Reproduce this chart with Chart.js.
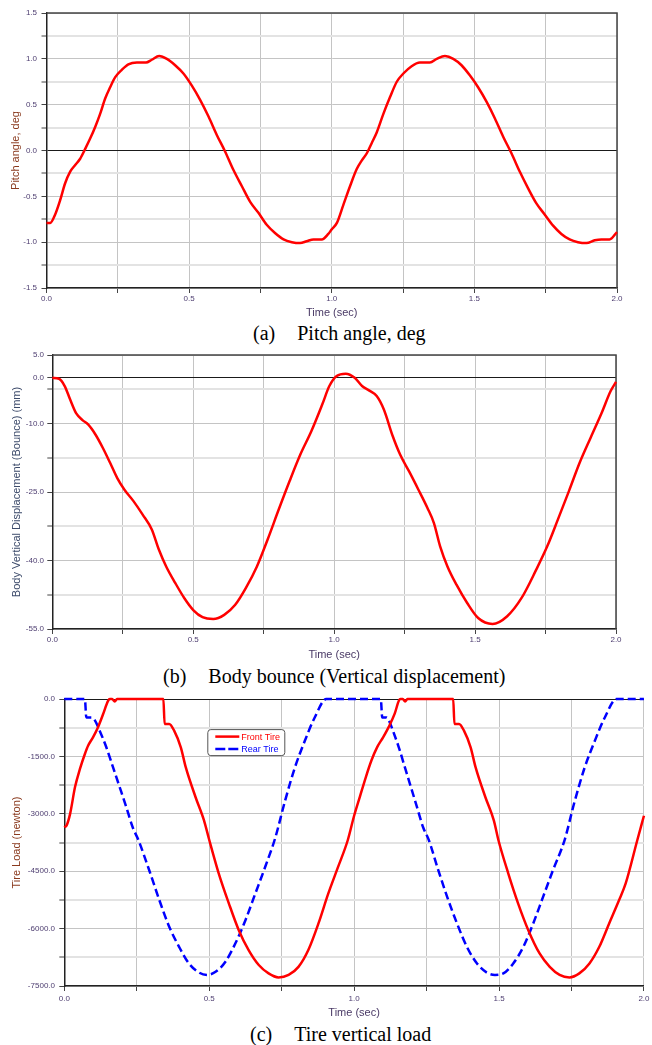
<!DOCTYPE html>
<html><head><meta charset="utf-8">
<script src="https://cdn.jsdelivr.net/npm/chart.js@4.4.0/dist/chart.umd.min.js"></script>
<style>
html,body{margin:0;padding:0;background:#fff;}
body{width:652px;height:1045px;overflow:hidden;position:relative}
.wrap{position:absolute;left:0;width:652px}
canvas{display:block}
.cap{position:absolute;font-family:"Liberation Serif","Times New Roman",serif;font-size:20px;line-height:24px;color:#000;white-space:nowrap}
.cap span+span{margin-left:22px}
</style></head><body>
<div class="wrap" style="top:0;height:320px"><canvas id="ca" width="652" height="320"></canvas></div>
<div class="cap" style="left:253px;top:321px"><span>(a)</span><span>Pitch angle, deg</span></div>
<div class="wrap" style="top:345px;height:317px"><canvas id="cb" width="652" height="317"></canvas></div>
<div class="cap" style="left:163px;top:664px"><span>(b)</span><span>Body bounce (Vertical displacement)</span></div>
<div class="wrap" style="top:690px;height:332px"><canvas id="cc" width="652" height="332"></canvas></div>
<div class="cap" style="left:250px;top:1022px"><span>(c)</span><span>Tire vertical load</span></div>
<script>
// ---------- data ----------
const timeTicks = [0, 0.25, 0.5, 0.75, 1.0, 1.25, 1.5, 1.75, 2.0];
const timeLabels = [0, 0.5, 1.0, 1.5, 2.0];

const pitchTime = [0, 0.013, 0.03, 0.048, 0.065, 0.083, 0.1, 0.118, 0.136, 0.153, 0.171, 0.188, 0.206, 0.223, 0.241, 0.264, 0.287, 0.317, 0.349, 0.369, 0.395, 0.422, 0.451, 0.48, 0.509, 0.539, 0.568, 0.597, 0.626, 0.655, 0.685, 0.714, 0.743, 0.772, 0.801, 0.831, 0.86, 0.889, 0.912, 0.936, 0.965, 0.988, 1.0, 1.018, 1.041, 1.064, 1.088, 1.105, 1.123, 1.14, 1.158, 1.181, 1.204, 1.228, 1.251, 1.28, 1.309, 1.344, 1.368, 1.397, 1.426, 1.455, 1.484, 1.513, 1.543, 1.572, 1.601, 1.63, 1.659, 1.688, 1.718, 1.747, 1.776, 1.805, 1.834, 1.863, 1.893, 1.922, 1.945, 1.974, 2.0];
const pitchDeg = [-0.79, -0.79, -0.70, -0.54, -0.36, -0.23, -0.16, -0.09, 0.02, 0.13, 0.26, 0.40, 0.57, 0.69, 0.80, 0.88, 0.94, 0.96, 0.96, 0.99, 1.03, 1.00, 0.93, 0.84, 0.71, 0.55, 0.37, 0.17, -0.01, -0.21, -0.39, -0.56, -0.68, -0.81, -0.90, -0.97, -1.00, -1.01, -0.99, -0.97, -0.97, -0.91, -0.86, -0.79, -0.59, -0.39, -0.20, -0.11, -0.03, 0.08, 0.20, 0.40, 0.58, 0.75, 0.84, 0.92, 0.96, 0.96, 1.00, 1.03, 1.00, 0.93, 0.82, 0.69, 0.53, 0.35, 0.15, -0.03, -0.23, -0.41, -0.58, -0.70, -0.82, -0.91, -0.97, -1.00, -1.01, -0.98, -0.97, -0.97, -0.89];
const pitchTicks = [-1.5, -1.25, -1, -0.75, -0.5, -0.25, 0, 0.25, 0.5, 0.75, 1, 1.25, 1.5];
const pitchLabels = [-1.5, -1, -0.5, 0, 0.5, 1, 1.5];

const bounceTime = [0, 0.024, 0.044, 0.063, 0.085, 0.108, 0.127, 0.153, 0.179, 0.205, 0.230, 0.256, 0.288, 0.320, 0.353, 0.378, 0.404, 0.436, 0.468, 0.501, 0.533, 0.571, 0.610, 0.649, 0.687, 0.726, 0.764, 0.803, 0.842, 0.880, 0.919, 0.958, 0.983, 1.009, 1.041, 1.073, 1.099, 1.125, 1.151, 1.176, 1.208, 1.234, 1.266, 1.299, 1.331, 1.354, 1.376, 1.402, 1.434, 1.472, 1.511, 1.562, 1.614, 1.665, 1.717, 1.756, 1.794, 1.833, 1.871, 1.910, 1.949, 1.981, 2.0];
const bounceMm = [0, -0.2, -1.8, -4.7, -7.8, -9.3, -10.2, -12.4, -15.3, -18.6, -21.9, -24.5, -27.0, -29.9, -33.2, -37.6, -41.3, -44.9, -48.2, -50.9, -52.4, -52.8, -51.9, -49.7, -46.0, -41.3, -35.4, -28.9, -22.6, -16.8, -11.7, -5.8, -1.8, 0.4, 0.9, 0, -1.8, -2.8, -4.0, -6.9, -12.8, -16.8, -20.5, -24.5, -28.5, -31.8, -36.9, -41.3, -45.3, -49.3, -52.6, -53.9, -52.2, -48.2, -42.0, -36.9, -31.0, -24.8, -18.6, -13.1, -7.7, -2.9, -0.9];
const bounceTicks = [-55, -47.5, -40, -32.5, -25, -17.5, -10, -2.5, 0, 5];
const bounceLabels = [-55, -40, -25, -10, 0, 5];

const frontTime = [0, 0.008, 0.02, 0.037, 0.054, 0.071, 0.082, 0.099, 0.116, 0.134, 0.151, 0.157, 0.165, 0.174, 0.182, 0.342, 0.346, 0.362, 0.379, 0.402, 0.419, 0.453, 0.482, 0.499, 0.533, 0.568, 0.602, 0.636, 0.671, 0.705, 0.739, 0.774, 0.808, 0.842, 0.877, 0.911, 0.944, 0.978, 1.0, 1.02, 1.04, 1.06, 1.08, 1.1, 1.12, 1.14, 1.155, 1.16, 1.168, 1.176, 1.184, 1.342, 1.346, 1.362, 1.379, 1.402, 1.419, 1.453, 1.482, 1.498, 1.532, 1.566, 1.601, 1.64, 1.675, 1.709, 1.743, 1.777, 1.812, 1.846, 1.88, 1.914, 1.937, 1.977, 2.0];
const frontLoad = [-3350, -3300, -3000, -2300, -1825, -1435, -1220, -1000, -740, -390, -45, 0, 0, -60, 0, 0, -650, -650, -825, -1260, -1780, -2565, -3170, -3650, -4560, -5345, -6040, -6560, -6950, -7170, -7275, -7210, -7000, -6560, -5865, -5080, -4400, -3690, -3050, -2550, -2050, -1600, -1250, -1000, -720, -380, -30, 0, 0, -60, 0, 0, -650, -650, -825, -1260, -1780, -2565, -3170, -3690, -4560, -5345, -6040, -6650, -7000, -7210, -7275, -7170, -6910, -6475, -5865, -5260, -4820, -3690, -3050];
const rearTime = [0, 0.071, 0.076, 0.094, 0.105, 0.122, 0.145, 0.168, 0.191, 0.214, 0.236, 0.256, 0.293, 0.328, 0.362, 0.396, 0.43, 0.465, 0.493, 0.522, 0.556, 0.59, 0.625, 0.659, 0.693, 0.727, 0.762, 0.796, 0.83, 0.864, 0.904, 1.092, 1.097, 1.112, 1.12, 1.135, 1.155, 1.175, 1.196, 1.217, 1.238, 1.258, 1.287, 1.321, 1.355, 1.389, 1.424, 1.458, 1.486, 1.515, 1.549, 1.584, 1.618, 1.652, 1.686, 1.726, 1.76, 1.795, 1.83, 1.865, 1.905, 2.0];
const rearLoad = [0, 0, -480, -480, -550, -825, -1260, -1780, -2300, -2825, -3350, -3690, -4475, -5255, -5950, -6475, -6910, -7150, -7210, -7130, -6865, -6390, -5780, -5085, -4390, -3650, -2650, -1780, -1090, -480, 0, 0, -480, -480, -560, -850, -1280, -1780, -2300, -2825, -3350, -3690, -4390, -5170, -5865, -6475, -6910, -7150, -7210, -7170, -6910, -6475, -5865, -5170, -4475, -3690, -2700, -1800, -1100, -480, 0, 0];
const loadTicks = [-7500, -6750, -6000, -5250, -4500, -3750, -3000, -2250, -1500, -750, 0];
const loadLabels = [-7500, -6000, -4500, -3000, -1500, 0];

// ---------- helpers ----------
const TICK_COLOR = '#4d3d70';
const FONT = "'Liberation Sans', Arial, sans-serif";
const pts = (xs, ys) => xs.map((x, i) => ({x, y: ys[i]}));
const has = (arr, v) => arr.some(a => Math.abs(a - v) < 1e-6);

const framePlugin = {
  id: 'frame',
  beforeDatasetsDraw(chart, args, opts) {
    if (!opts.draw) return;
    const {ctx, chartArea: a} = chart;
    ctx.save();
    ctx.strokeStyle = '#444';
    ctx.lineWidth = 1.5;
    ctx.beginPath();
    ctx.moveTo(a.left, a.top); ctx.lineTo(a.right, a.top); ctx.lineTo(a.right, a.bottom);
    ctx.stroke();
    ctx.restore();
  }
};

const boxLegend = {
  id: 'boxLegend',
  afterDraw(chart, args, opts) {
    if (!opts.show) return;
    const {ctx, chartArea: a} = chart;
    const x = a.left + 143, y = a.top + 30, w = 77, h = 26;
    ctx.save();
    ctx.fillStyle = '#fff';
    ctx.strokeStyle = '#555';
    ctx.lineWidth = 1;
    ctx.beginPath();
    ctx.roundRect(x + 0.5, y + 0.5, w, h, 3);
    ctx.fill(); ctx.stroke();
    chart.data.datasets.forEach((ds, i) => {
      const ly = y + 7.5 + i * 12.5;
      ctx.strokeStyle = ds.borderColor;
      ctx.lineWidth = 2.5;
      ctx.setLineDash(ds.borderDash ? [10, 3] : []);
      ctx.beginPath(); ctx.moveTo(x + 8, ly); ctx.lineTo(x + 32, ly); ctx.stroke();
      ctx.setLineDash([]);
      ctx.fillStyle = ds.borderColor;
      ctx.font = '9px ' + FONT;
      ctx.textBaseline = 'middle';
      ctx.fillText(ds.label, x + 34, ly + 0.5);
    });
    ctx.restore();
  }
};

function makeChart(id, cfg) {
  const yTickVals = cfg.yTicks, yLab = cfg.yLabels;
  return new Chart(document.getElementById(id), {
    type: 'line',
    data: {datasets: cfg.datasets},
    plugins: [framePlugin, boxLegend],
    options: {
      responsive: false, animation: false, devicePixelRatio: 1,
      layout: {padding: {top: cfg.padTop, right: cfg.padRight, left: 0, bottom: 0}},
      plugins: {
        legend: {display: false}, tooltip: {enabled: false},
        frame: {draw: cfg.frame}, boxLegend: {show: cfg.legend}
      },
      elements: {point: {radius: 0}, line: {cubicInterpolationMode: 'monotone'}},
      scales: {
        x: {
          type: 'linear', min: 0, max: 2,
          afterBuildTicks: s => { s.ticks = timeTicks.map(v => ({value: v})); },
          afterFit: s => { s.height = cfg.xHeight; },
          ticks: {
            autoSkip: false, maxRotation: 0, padding: cfg.xTickPad,
            color: TICK_COLOR, font: {family: FONT, size: 8},
            callback: v => has(timeLabels, v) ? v.toFixed(1) : ''
          },
          grid: {color: '#c4c4c4', lineWidth: 1, tickLength: 5, tickColor: '#444', tickWidth: 1},
          border: {display: true, color: '#222', width: 1.5},
          title: {display: true, text: 'Time (sec)', color: '#4a3a66',
                  font: {family: FONT, size: 11}, padding: {top: 0, bottom: cfg.xTitlePad}}
        },
        y: {
          type: 'linear', min: cfg.yMin, max: cfg.yMax,
          afterBuildTicks: s => { s.ticks = yTickVals.map(v => ({value: v})); },
          afterFit: s => { s.width = cfg.yWidth; },
          ticks: {
            autoSkip: false, padding: cfg.yTickPad,
            color: TICK_COLOR, font: {family: FONT, size: 8},
            callback: v => has(yLab, v) ? v.toFixed(1) : ''
          },
          grid: {
            color: c => Math.abs(c.tick.value) < 1e-9 ? '#1a1a1a' : (has(yLab, c.tick.value) ? '#c4c4c4' : '#e3e3e3'),
            lineWidth: c => Math.abs(c.tick.value) < 1e-9 ? 1 : (has(yLab, c.tick.value) ? 1 : 2),
            tickLength: 5, tickColor: '#444', tickWidth: 1
          },
          border: {display: true, color: '#222', width: 1.5},
          title: {display: true, text: cfg.yTitle, color: cfg.yTitleColor,
                  font: {family: FONT, size: 11}, padding: {top: cfg.yTitlePad, bottom: 0}}
        }
      }
    }
  });
}

makeChart('ca', {
  datasets: [{label: 'Pitch angle', data: pts(pitchTime, pitchDeg), borderColor: '#ff0000', borderWidth: 2.5, fill: false, clip: 4}],
  padTop: 13, padRight: 35, yWidth: 46.5, xHeight: 32, yMin: -1.5, yMax: 1.5,
  yTicks: pitchTicks, yLabels: pitchLabels, xTickPad: 1, xTitlePad: 0,
  yTitle: 'Pitch angle, deg', yTitleColor: '#8a3a1e', yTitlePad: 9, yTickPad: 4.5, frame: true, legend: false
});

makeChart('cb', {
  datasets: [{label: 'Bounce', data: pts(bounceTime, bounceMm), borderColor: '#ff0000', borderWidth: 2.5, fill: false, clip: 4}],
  padTop: 10, padRight: 36, yWidth: 52.3, xHeight: 33, yMin: -55, yMax: 5,
  yTicks: bounceTicks, yLabels: bounceLabels, xTickPad: 1, xTitlePad: 0,
  yTitle: 'Body Vertical Displacement (Bounce) (mm)', yTitleColor: '#3c4a6a', yTitlePad: 10, yTickPad: 3.3, frame: true, legend: false
});

makeChart('cc', {
  datasets: [
    {label: 'Front Tire', data: pts(frontTime, frontLoad), borderColor: '#ff0000', borderWidth: 2.5, fill: false, clip: 4},
    {label: 'Rear Tire', data: pts(rearTime, rearLoad), borderColor: '#0000ff', borderWidth: 2.5, borderDash: [8, 4], fill: false, clip: 4}
  ],
  padTop: 8.3, padRight: 3.7, yWidth: 64.3, xHeight: 36, yMin: -7500, yMax: 0,
  yTicks: loadTicks, yLabels: loadLabels, xTickPad: 2.5, xTitlePad: 2,
  yTitle: 'Tire Load (newton)', yTitleColor: '#8a3a1e', yTitlePad: 10.5, yTickPad: 4.3, frame: false, legend: true
});
</script>
</body></html>
